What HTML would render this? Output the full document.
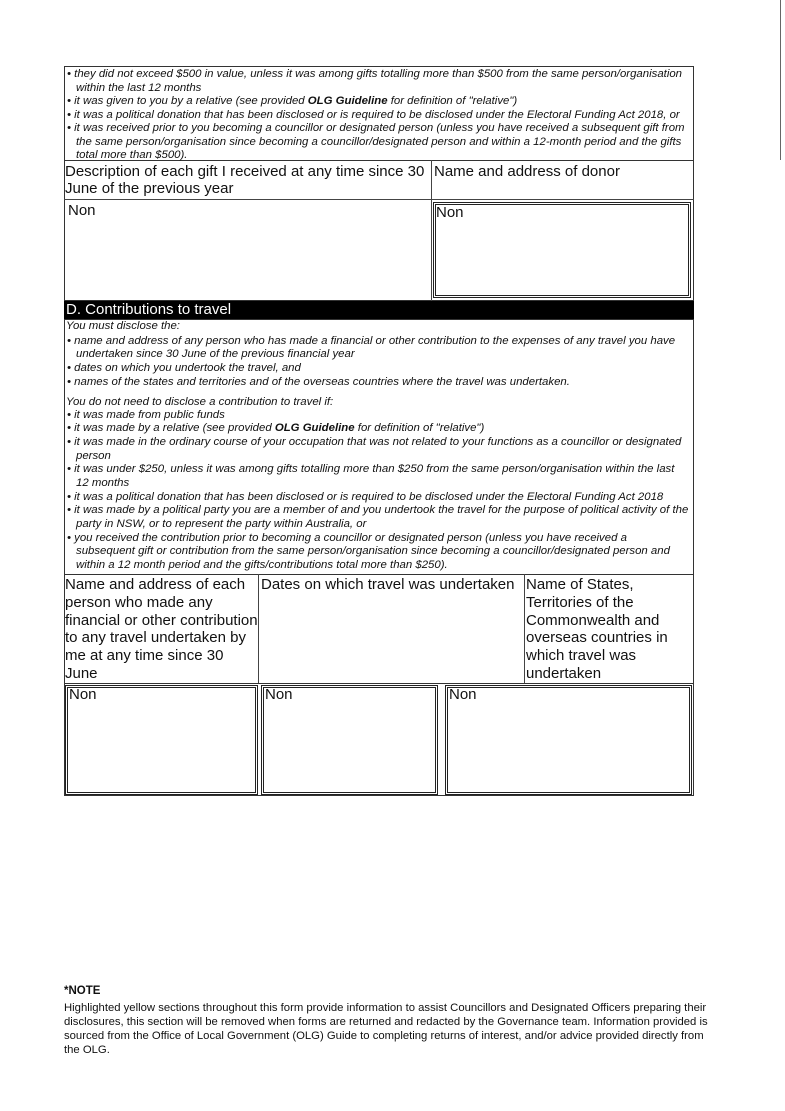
<!DOCTYPE html>
<html><head><meta charset="utf-8"><style>
body{margin:0;width:785px;height:1111px;background:#fff;position:relative;overflow:hidden;font-family:"Liberation Sans",Arial,sans-serif;color:#111}
.a{position:absolute;white-space:nowrap}
.i{font-style:italic;font-size:11.4px;line-height:13px}
.h{font-size:15px;line-height:18px}
.b{position:absolute;border:1px solid #333;box-sizing:border-box}
.d{position:absolute;border:3px double #222;box-sizing:border-box}
.l{position:absolute;background:#444}
</style></head><body>
<div class="b" style="left:64px;top:66px;width:630px;height:95px"></div>
<div class="b" style="left:64px;top:160px;width:630px;height:141px"></div>
<div class="l" style="left:64px;top:199px;width:630px;height:1px"></div>
<div class="l" style="left:431px;top:160px;width:1px;height:141px"></div>
<div class="d" style="left:433px;top:202px;width:258px;height:96px"></div>
<div class="a" style="left:64px;top:301px;width:630px;height:18px;background:#000"></div>
<div class="a h" style="left:66px;top:301px;color:#fff">D. Contributions to travel</div>
<div class="b" style="left:64px;top:319px;width:630px;height:256px"></div>
<div class="b" style="left:64px;top:574px;width:630px;height:110px"></div>
<div class="l" style="left:258px;top:574px;width:1px;height:110px"></div>
<div class="l" style="left:524px;top:574px;width:1px;height:110px"></div>
<div class="b" style="left:64px;top:683px;width:630px;height:113px"></div>
<div class="d" style="left:65px;top:685px;width:193px;height:110px"></div>
<div class="d" style="left:261px;top:685px;width:177px;height:110px"></div>
<div class="d" style="left:445px;top:685px;width:247px;height:110px"></div>
<div class="l" style="left:780px;top:0;width:1px;height:160px;background:#666"></div>

<div class="a i" style="left:67px;top:68px">• they did not exceed $500 in value, unless it was among gifts totalling more than $500 from the same person/organisation</div>
<div class="a i" style="left:76px;top:82px">within the last 12 months</div>
<div class="a i" style="left:67px;top:95px">• it was given to you by a relative (see provided <b>OLG Guideline</b> for definition of "relative")</div>
<div class="a i" style="left:67px;top:109px">• it was a political donation that has been disclosed or is required to be disclosed under the Electoral Funding Act 2018, or</div>
<div class="a i" style="left:67px;top:122px">• it was received prior to you becoming a councillor or designated person (unless you have received a subsequent gift from</div>
<div class="a i" style="left:76px;top:136px">the same person/organisation since becoming a councillor/designated person and within a 12-month period and the gifts</div>
<div class="a i" style="left:76px;top:149px">total more than $500).</div>
<div class="a h" style="left:65px;top:163px;line-height:17px">Description of each gift I received at any time since 30<br>June of the previous year</div>
<div class="a h" style="left:434px;top:163px">Name and address of donor</div>
<div class="a h" style="left:68px;top:202px">Non</div>
<div class="a h" style="left:436px;top:204px">Non</div>

<div class="a i" style="left:66px;top:320px">You must disclose the:</div>
<div class="a i" style="left:67px;top:335px">• name and address of any person who has made a financial or other contribution to the expenses of any travel you have</div>
<div class="a i" style="left:76px;top:348px">undertaken since 30 June of the previous financial year</div>
<div class="a i" style="left:67px;top:362px">• dates on which you undertook the travel, and</div>
<div class="a i" style="left:67px;top:376px">• names of the states and territories and of the overseas countries where the travel was undertaken.</div>
<div class="a i" style="left:66px;top:396px">You do not need to disclose a contribution to travel if:</div>
<div class="a i" style="left:67px;top:409px">• it was made from public funds</div>
<div class="a i" style="left:67px;top:422px">• it was made by a relative (see provided <b>OLG Guideline</b> for definition of "relative")</div>
<div class="a i" style="left:67px;top:436px">• it was made in the ordinary course of your occupation that was not related to your functions as a councillor or designated</div>
<div class="a i" style="left:76px;top:450px">person</div>
<div class="a i" style="left:67px;top:463px">• it was under $250, unless it was among gifts totalling more than $250 from the same person/organisation within the last</div>
<div class="a i" style="left:76px;top:477px">12 months</div>
<div class="a i" style="left:67px;top:491px">• it was a political donation that has been disclosed or is required to be disclosed under the Electoral Funding Act 2018</div>
<div class="a i" style="left:67px;top:504px">• it was made by a political party you are a member of and you undertook the travel for the purpose of political activity of the</div>
<div class="a i" style="left:76px;top:518px">party in NSW, or to represent the party within Australia, or</div>
<div class="a i" style="left:67px;top:532px">• you received the contribution prior to becoming a councillor or designated person (unless you have received a</div>
<div class="a i" style="left:76px;top:545px">subsequent gift or contribution from the same person/organisation since becoming a councillor/designated person and</div>
<div class="a i" style="left:76px;top:559px">within a 12 month period and the gifts/contributions total more than $250).</div>

<div class="a h" style="left:65px;top:576px;line-height:17.8px">Name and address of each<br>person who made any<br>financial or other contribution<br>to any travel undertaken by<br>me at any time since 30<br>June</div>
<div class="a h" style="left:261px;top:576px">Dates on which travel was undertaken</div>
<div class="a h" style="left:526px;top:576px;line-height:17.8px">Name of States,<br>Territories of the<br>Commonwealth and<br>overseas countries in<br>which travel was<br>undertaken</div>
<div class="a h" style="left:69px;top:686px">Non</div>
<div class="a h" style="left:265px;top:686px">Non</div>
<div class="a h" style="left:449px;top:686px">Non</div>

<div class="a" style="left:64px;top:985px;font-size:11.5px;font-weight:bold">*NOTE</div>
<div class="a" style="left:64px;top:1001px;font-size:11.3px;line-height:14px">Highlighted yellow sections throughout this form provide information to assist Councillors and Designated Officers preparing their<br>disclosures, this section will be removed when forms are returned and redacted by the Governance team. Information provided is<br>sourced from the Office of Local Government (OLG) Guide to completing returns of interest, and/or advice provided directly from<br>the OLG.</div>
</body></html>
